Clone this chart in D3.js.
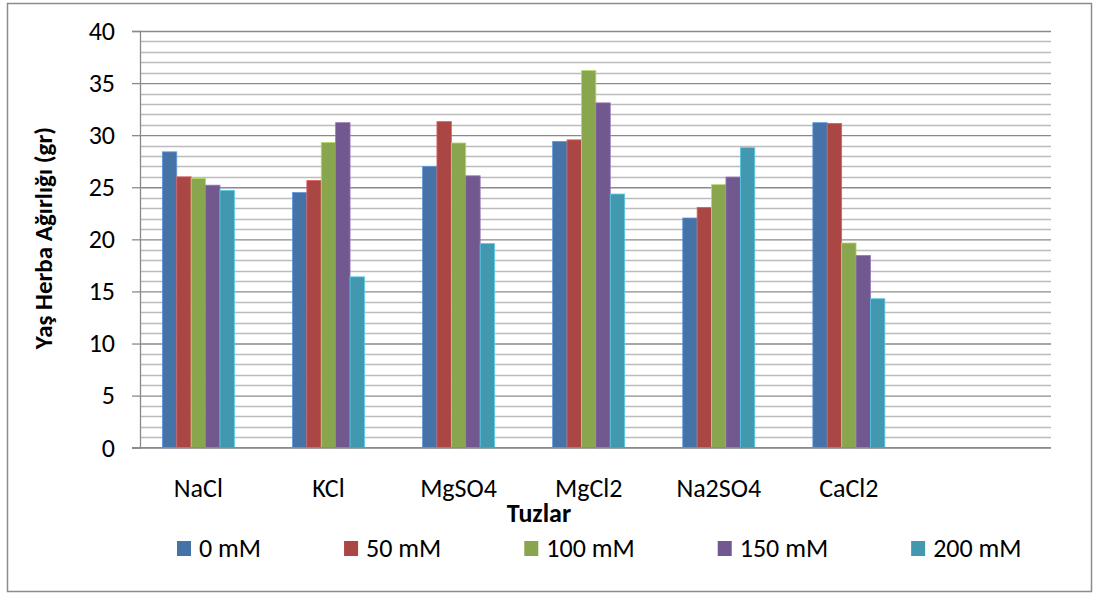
<!DOCTYPE html>
<html>
<head>
<meta charset="utf-8">
<script src="https://cdn.jsdelivr.net/npm/d3@7"></script>
<style>
  html, body { margin: 0; padding: 0; background: #fff; }
  svg { display: block; font-family: Carlito, Lato, "Open Sans", sans-serif; }
</style>
</head>
<body>
<svg id="chart" width="1095" height="596"></svg>
<script>
const categories = ["NaCl", "KCl", "MgSO4", "MgCl2", "Na2SO4", "CaCl2", ""];
const seriesNames = ["0 mM", "50 mM", "100 mM", "150 mM", "200 mM"];
const values0   = [28.4, 24.5, 27.0, 29.4, 22.05, 31.2];
const values50  = [26.0, 25.65, 31.3, 29.55, 23.07, 31.13];
const values100 = [25.85, 29.3, 29.25, 36.2, 25.25, 19.65];
const values150 = [25.2, 31.2, 26.1, 33.1, 25.98, 18.45];
const values200 = [24.7, 16.4, 19.6, 24.35, 28.8, 14.3];
const yTicks = [0, 5, 10, 15, 20, 25, 30, 35, 40];
const colors = ["#4572A7", "#AA4643", "#89A54E", "#71588F", "#4198AF"];
const yTitle = "Yaş Herba Ağırlığı (gr)";
const xTitle = "Tuzlar";

const allSeries = [values0, values50, values100, values150, values200];
const FONT = "Carlito, Lato, sans-serif";

const svg = d3.select("#chart");

// outer border
svg.append("rect").attr("x", 7.5).attr("y", 3.5).attr("width", 1084).attr("height", 588)
  .attr("fill", "#fff").attr("stroke", "#8c8c8c").attr("stroke-width", 1.5);

const plotLeft = 140, plotRight = 1051;
const y = d3.scaleLinear().domain([0, 40]).range([447.7, 31]);
const x0 = d3.scaleBand().domain(categories).range([133.3, 1044]).padding(0);
const groupW = 72;
const x1 = d3.scaleBand().domain(d3.range(seriesNames.length))
  .range([(x0.bandwidth() - groupW) / 2, (x0.bandwidth() + groupW) / 2]).padding(0);

// minor gridlines
const minor = d3.range(1, 40).filter(v => v % 5 !== 0);
svg.append("g").selectAll("line").data(minor).join("line")
  .attr("x1", plotLeft).attr("x2", plotRight)
  .attr("y1", d => Math.round(y(d)) + 0.5).attr("y2", d => Math.round(y(d)) + 0.5)
  .attr("stroke", "#bcbcbc").attr("stroke-width", 1.3);

// major gridlines + y axis
const yAxis = d3.axisLeft(y).tickValues(yTicks).tickSize(8).tickPadding(17);
const yg = svg.append("g").attr("transform", `translate(${plotLeft},0)`).call(yAxis);
yg.select(".domain").attr("stroke", "#8a8a8a").attr("stroke-width", 1.3);
yg.selectAll(".tick line").attr("stroke", "#8a8a8a").attr("stroke-width", 1.3);
yg.selectAll(".tick").append("line")
  .attr("x1", 0).attr("x2", plotRight - plotLeft)
  .attr("stroke", "#8a8a8a").attr("stroke-width", 1.3);
yg.selectAll(".tick text").attr("font-size", 26).attr("fill", "#000")
  .attr("font-family", FONT);

// bars
const groups = svg.append("g").selectAll("g")
  .data(categories.slice(0, values0.length)).join("g")
  .attr("transform", c => `translate(${x0(c)},0)`);
groups.selectAll("rect")
  .data((c, ci) => allSeries.map((s, si) => ({ si, v: s[ci] })))
  .join("rect")
  .attr("x", d => x1(d.si))
  .attr("width", x1.bandwidth())
  .attr("y", d => y(d.v))
  .attr("height", d => y(0) - y(d.v))
  .attr("fill", d => colors[d.si])
  .attr("stroke", d => d3.color(colors[d.si]).brighter(0.8))
  .attr("stroke-width", 0.8);

// x axis
const xAxis = d3.axisBottom(x0).tickSize(0).tickPadding(31);
const xg = svg.append("g").attr("transform", `translate(0,${y(0)})`).call(xAxis);
xg.select(".domain").remove();
xg.append("line").attr("x1", 132).attr("x2", plotRight).attr("y1", 0).attr("y2", 0)
  .attr("stroke", "#8a8a8a").attr("stroke-width", 1.3);
xg.selectAll(".tick text").attr("font-size", 26).attr("fill", "#000")
  .attr("font-family", FONT);

// axis titles
svg.append("text").attr("transform", "translate(52,238) rotate(-90)")
  .attr("text-anchor", "middle").attr("font-size", 25).attr("font-weight", "bold")
  .attr("font-family", FONT).text(yTitle);
svg.append("text").attr("x", 539).attr("y", 522)
  .attr("text-anchor", "middle").attr("font-size", 26).attr("font-weight", "bold")
  .attr("font-family", FONT).text(xTitle);

// legend
const legend = svg.append("g");
let lx = 177;
seriesNames.forEach((name, i) => {
  legend.append("rect").attr("x", lx).attr("y", 541).attr("width", 14).attr("height", 15)
    .attr("fill", colors[i]);
  const t = legend.append("text").attr("x", lx + 22).attr("y", 557)
    .attr("font-size", 26).attr("font-family", FONT).text(name);
  lx = lx + 22 + t.node().getComputedTextLength() + 83;
});
</script>
</body>
</html>
